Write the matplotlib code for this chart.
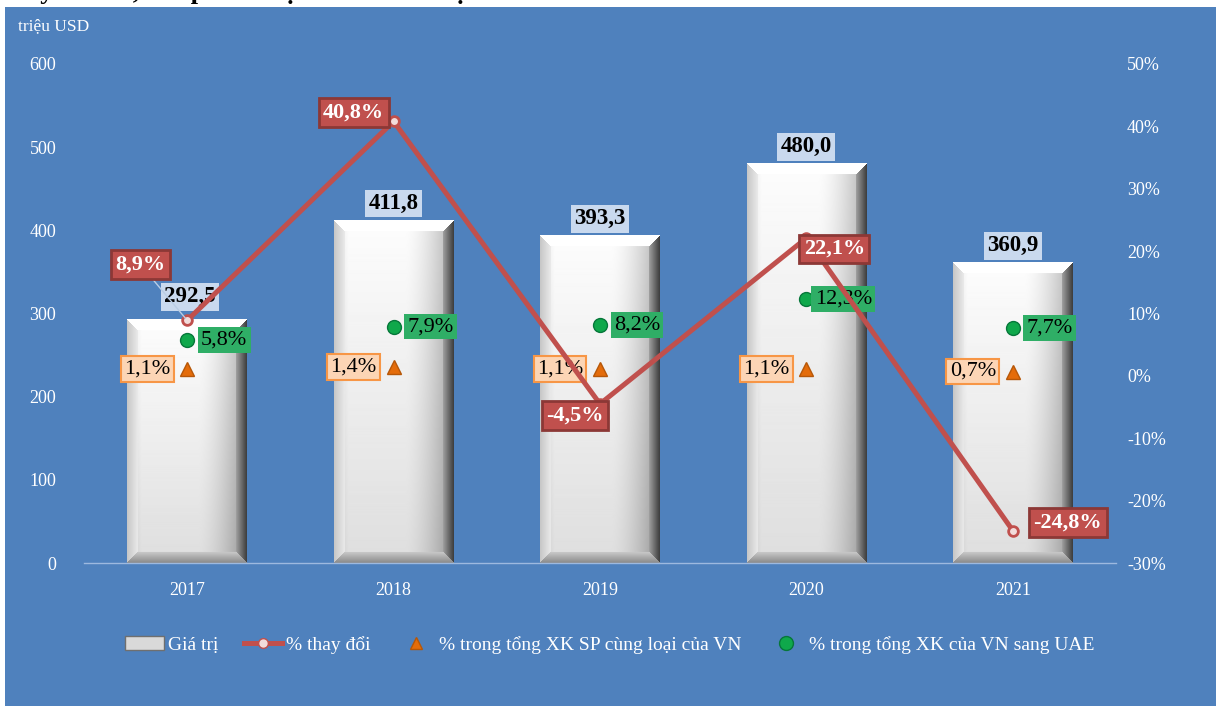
import numpy as np
import matplotlib
matplotlib.use("Agg")
import matplotlib.pyplot as plt
from matplotlib.patches import Rectangle, Patch
from matplotlib.lines import Line2D
from matplotlib.ticker import FuncFormatter

plt.rcParams['font.family'] = ['Liberation Serif', 'DejaVu Serif']

# data
years = ['2017', '2018', '2019', '2020', '2021']
value = [292.5, 411.8, 393.3, 480.0, 360.9]          # triệu USD
change = [8.9, 40.8, -4.5, 22.1, -24.8]               # % thay đổi
share_same = [1.1, 1.4, 1.1, 1.1, 0.7]                # % trong tổng XK SP cùng loại của VN
share_uae = [5.8, 7.9, 8.2, 12.3, 7.7]                # % trong tổng XK của VN sang UAE

BLUE = '#4F81BD'
RED = '#C0504D'


def vn(v, dec=1):
    return f"{v:.{dec}f}".replace('.', ',')


def bar_image(h, w, b=11):
    # bevelled white bar, shaded like the Excel 3D look
    yy, xx = np.mgrid[0:h, 0:w].astype(float)
    u = xx / max(w - 1, 1)
    img = 0.99 - 0.30 * np.clip((u - 0.6) / 0.4, 0, 1) ** 1.6
    img -= 0.10 * np.clip((0.12 - u) / 0.12, 0, 1)
    img -= 0.12 * (yy / max(h, 1))
    dl, dr, dt, db = xx, w - 1 - xx, yy, h - 1 - yy
    m = np.minimum(np.minimum(dl, dr), np.minimum(dt, db))
    bev = m < b
    top = bev & (dt == m)
    bot = bev & (db == m) & ~top
    left = bev & (dl == m) & ~top & ~bot
    right = bev & (dr == m) & ~top & ~bot & ~left
    img[top] = 1.0
    img[left] = 0.78 + 0.14 * (dl[left] / b)
    img[right] = 0.25 + 0.40 * (dr[right] / b)
    img[bot] = 0.55 + 0.25 * (db[bot] / b)
    return np.clip(img, 0, 1)


fig = plt.figure(figsize=(12.16, 7.06), dpi=100)
fig.patch.set_facecolor('white')
bg = Rectangle((5 / 1216, 0), 1 - 5 / 1216, 1 - 7 / 706,
               transform=fig.transFigure, facecolor=BLUE, edgecolor='none',
               zorder=-5)
fig.add_artist(bg)
# title of the source figure, only its lower edge shows above the chart
fig.text(2 / 1216, 1 + 1 / 706, 'Máy vi tính, sản phẩm điện tử và linh kiện',
         fontsize=19, fontweight='bold', color='black', va='baseline',
         ha='left', zorder=-6)

ax = fig.add_axes([84 / 1216, 1 - 563 / 706, 1032 / 1216, 499 / 706])
ax.set_facecolor('none')
ax.set_xlim(-0.5, 4.5)
ax.set_ylim(0, 600)
x = np.arange(len(years))
bw = 0.58

for i, v in enumerate(value):
    p0 = ax.transData.transform((i - bw / 2, 0))
    p1 = ax.transData.transform((i + bw / 2, v))
    w_px = int(round(p1[0] - p0[0]))
    h_px = int(round(p1[1] - p0[1]))
    ax.imshow(bar_image(h_px, w_px), extent=[i - bw / 2, i + bw / 2, 0, v],
              cmap='gray', vmin=0, vmax=1, aspect='auto', zorder=2,
              interpolation='bilinear')
ax.set_xlim(-0.5, 4.5)
ax.set_ylim(0, 600)

val_off = [(3, 23), (0, 17), (0, 17), (0, 17), (0, 17)]
for i, v in enumerate(value):
    ax.annotate(vn(v), (i, v), xytext=val_off[i], textcoords='offset pixels',
                ha='center', va='center', fontsize=16.5, fontweight='bold',
                color='black', zorder=5,
                bbox=dict(boxstyle='square,pad=0.15', fc='#C9D9EE', ec='none'))

ax.set_xticks(x)
ax.set_xticklabels(years)
ax.set_yticks(np.arange(0, 601, 100))
ax.tick_params(axis='both', length=0, colors='white', labelsize=13)
ax.tick_params(axis='y', pad=20)
ax.tick_params(axis='x', pad=14)
for s in ['top', 'left', 'right']:
    ax.spines[s].set_visible(False)
ax.spines['bottom'].set_color('#9DB9DF')
ax.spines['bottom'].set_linewidth(1)

fig.text(18 / 1216, 1 - 26 / 706, 'triệu USD', color='white', fontsize=12.5,
         ha='left', va='center')

ax2 = ax.twinx()
ax2.set_ylim(-30, 50)
ax2.set_yticks(np.arange(-30, 51, 10))
ax2.yaxis.set_major_formatter(FuncFormatter(lambda v, p: f"{v:.0f}%"))
ax2.tick_params(axis='y', length=0, colors='white', labelsize=13, pad=8)
for s in ax2.spines.values():
    s.set_visible(False)

ax2.plot(x, share_same, ls='none', marker='^', ms=9.5, color='#E46C0A',
         mec='#B65708', zorder=3)
ax2.plot(x, share_uae, ls='none', marker='o', ms=10, color='#0FA84B',
         mec='#06773A', zorder=3)

chg_off = [(-47, 56), (-40, 9), (-25, -12), (28, -11), (55, 8)]
for i, v in enumerate(change):
    arrow = None
    if i == 0:
        arrow = dict(arrowstyle='-', color='#B9CDE5', lw=1,
                     shrinkA=0, shrinkB=2)
    ax2.annotate(vn(v) + '%', (i, v), xytext=chg_off[i],
                 textcoords='offset pixels', ha='center', va='center',
                 fontsize=16, fontweight='bold', color='white', zorder=6,
                 arrowprops=arrow,
                 bbox=dict(boxstyle='square,pad=0.2', fc=RED, ec='#8C3836',
                           lw=2))

for i, v in enumerate(share_uae):
    ax2.annotate(vn(v) + '%', (i, v), xytext=(37, 0),
                 textcoords='offset pixels', ha='center', va='center',
                 fontsize=16, color='black', zorder=3,
                 bbox=dict(boxstyle='square,pad=0.15', fc='#2FAE66', ec='none'))

for i, v in enumerate(share_same):
    ax2.annotate(vn(v) + '%', (i, v), xytext=(-40, 0),
                 textcoords='offset pixels', ha='center', va='center',
                 fontsize=16, color='black', zorder=3,
                 bbox=dict(boxstyle='square,pad=0.15', fc='#FCD5B5',
                           ec='#F79646', lw=1.5))

ax2.plot(x, change, color=RED, lw=3.6, marker='o', ms=7, mfc='#F2DCDB',
         mec=RED, mew=2, zorder=4, solid_joinstyle='miter')

handles = [
    Patch(facecolor='#D9D9D9', edgecolor='#6F6F6F'),
    Line2D([], [], color=RED, lw=3.6, marker='o', ms=7, mfc='#F2DCDB',
           mec=RED),
    Line2D([], [], ls='none', marker='^', ms=9, color='#E46C0A',
           mec='#B65708'),
    Line2D([], [], ls='none', marker='o', ms=10, color='#0FA84B',
           mec='#06773A'),
]
labels = ['Giá trị', '% thay đổi', '% trong tổng XK SP cùng loại của VN',
          '% trong tổng XK của VN sang UAE']
fig.legend(handles, labels, loc='center', bbox_to_anchor=(610 / 1216, 1 - 645 / 706),
           ncol=4, frameon=False, fontsize=14, labelcolor='white',
           handlelength=2.0, handletextpad=0.2, columnspacing=1.3)

fig.savefig('out.png', dpi=100, facecolor=fig.get_facecolor())
